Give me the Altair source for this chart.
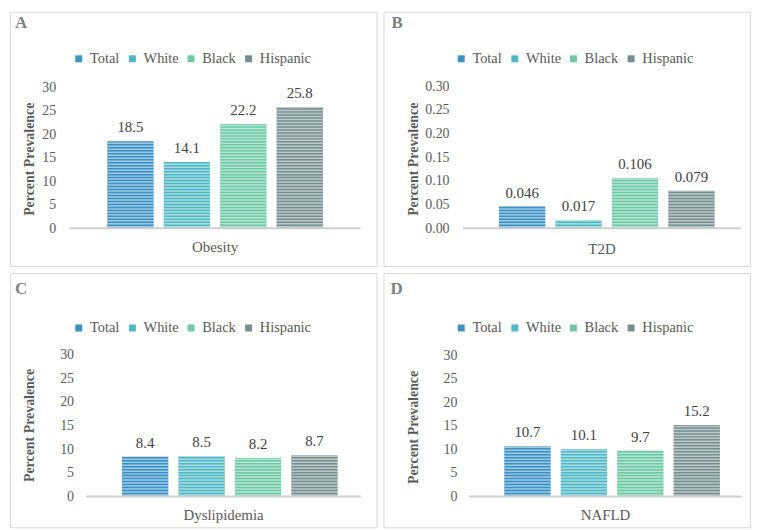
import altair as alt
import pandas as pd

# ---------------- data ----------------
panel_letters = ["A", "B", "C", "D"]
conditions = ["Obesity", "T2D", "Dyslipidemia", "NAFLD"]
groups = ["Total", "White", "Black", "Hispanic"]
obesity = [18.5, 14.1, 22.2, 25.8]
t2d = [0.046, 0.017, 0.106, 0.079]
dyslipidemia = [8.4, 8.5, 8.2, 8.7]
nafld = [10.7, 10.1, 9.7, 15.2]
series = [obesity, t2d, dyslipidemia, nafld]
y_ticks_30 = [0, 5, 10, 15, 20, 25, 30]
y_ticks_t2d = [0.00, 0.05, 0.10, 0.15, 0.20, 0.25, 0.30]

# ---------------- style ----------------
colors = ["#3a91c4", "#4fb8c6", "#6cc9a6", "#768e92"]
FONT = "Times New Roman, Liberation Serif, serif"
TXT = "#595959"
W, H = 369, 256
STRIPE_PX = 3.0  # texture period in pixels

# per-panel layout (view-relative pixels)
layouts = [
    dict(xr=[60, 353], yr=[218, 76], lab=46, tcx=20, tcy=148, lx=62, ly=40, cy=237, ticks=y_ticks_30, tf="d", vf=".1f", dom=[0, 30], lt=(5, 16)),
    dict(xr=[80, 360], yr=[218, 75], lab=66, tcx=30, tcy=148, lx=71, ly=40, cy=239, ticks=y_ticks_t2d, tf=".2f", vf=".3f", dom=[0, 0.30], lt=(8, 16)),
    dict(xr=[77, 353], yr=[225, 82], lab=64, tcx=20, tcy=153, lx=62, ly=48, cy=244, ticks=y_ticks_30, tf="d", vf=".1f", dom=[0, 30], lt=(5, 21)),
    dict(xr=[86, 361], yr=[225, 83], lab=74, tcx=30, tcy=155, lx=71, ly=48, cy=244, ticks=y_ticks_30, tf="d", vf=".1f", dom=[0, 30], lt=(7, 21)),
]


def panel(k):
    L = layouts[k]
    cond = conditions[k]
    df = pd.DataFrame({"condition": [cond] * 4, "group": groups, "value": series[k]})
    base = alt.Chart(df)

    step = L["dom"][1] * STRIPE_PX / (L["yr"][0] - L["yr"][1])
    half = step / 2

    x = alt.X("condition:N", axis=None,
              scale=alt.Scale(range=L["xr"], paddingOuter=0.175, paddingInner=0))
    xo = alt.XOffset("group:N", sort=groups,
                     scale=alt.Scale(paddingInner=0.18, paddingOuter=0))
    y = alt.Y("value:Q",
              scale=alt.Scale(domain=L["dom"], range=L["yr"], nice=False, zero=True),
              axis=alt.Axis(values=L["ticks"], format=L["tf"], grid=False, domain=False,
                            ticks=False, tickSize=0, labelPadding=0, offset=-L["lab"],
                            labelFont=FONT, labelFontSize=14, labelColor=TXT,
                            title="Percent Prevalence", titleFont=FONT, titleFontSize=14,
                            titleFontWeight="bold", titleColor=TXT,
                            titleX=L["tcx"] - L["lab"], titleY=L["tcy"],
                            titleAngle=270, titleBaseline="middle", titleAlign="center"))

    bars = base.mark_bar().encode(
        x=x, xOffset=xo, y=y,
        color=alt.Color("group:N", sort=groups,
                        scale=alt.Scale(domain=groups, range=colors),
                        legend=alt.Legend(orient="none", legendX=L["lx"], legendY=L["ly"],
                                          direction="horizontal", title=None,
                                          symbolType="square", symbolSize=49,
                                          symbolStrokeWidth=0, labelFont=FONT,
                                          labelFontSize=14.5, labelColor=TXT,
                                          labelOffset=4, columnPadding=5, padding=0,
                                          gridAlign="each")),
    )
    # horizontal-line texture of the bars (light lines across each bar)
    stripes = base.transform_calculate(
        s=f"sequence({half / 2}, datum.value - {half / 2}, {step})"
    ).transform_flatten(["s"]).transform_calculate(
        s2=f"min(datum.s + {half}, datum.value)"
    ).mark_bar(color="white", opacity=0.5).encode(
        x=x, xOffset=xo, y="s:Q", y2="s2:Q")
    labels = base.mark_text(font=FONT, fontSize=15, color="#404040", baseline="bottom", dy=-6).encode(
        x=x, xOffset=xo, y="value:Q", text=alt.Text("value:Q", format=L["vf"]))
    baseline = alt.Chart(alt.Data(values=[{"condition": cond}])).mark_rule(
        color="#cfcfcf", strokeWidth=2).encode(
        y=alt.datum(0), x=alt.value(L["xr"][0]), x2=alt.value(L["xr"][1]))
    cat = alt.Chart(alt.Data(values=[{"condition": cond}])).mark_text(
        font=FONT, fontSize=15, color=TXT, baseline="middle").encode(
        x=x, y=alt.value(L["cy"]), text="condition:N")
    letter = alt.Chart(alt.Data(values=[{"t": panel_letters[k]}])).mark_text(
        font=FONT, fontSize=17, fontWeight="bold", color="#7f7f7f", align="left",
        baseline="alphabetic").encode(
        x=alt.value(L["lt"][0]), y=alt.value(L["lt"][1]), text="t:N")

    return alt.layer(bars, stripes, baseline, labels, cat, letter).properties(width=W, height=H)


row1 = alt.hconcat(panel(0), panel(1), spacing=5).resolve_scale(
    x="independent", y="independent", color="independent").resolve_legend(color="independent")
row2 = alt.hconcat(panel(2), panel(3), spacing=5).resolve_scale(
    x="independent", y="independent", color="independent").resolve_legend(color="independent")

chart = alt.vconcat(row1, row2, spacing=5).resolve_scale(
    x="independent", y="independent", color="independent").resolve_legend(
    color="independent").properties(
    padding={"left": 1, "top": 1, "right": 1, "bottom": 1},
    background="white",
).configure_view(stroke="#d9d9d9", strokeWidth=1)

chart.save("out.html", embed_options={"renderer": "svg", "actions": False})
